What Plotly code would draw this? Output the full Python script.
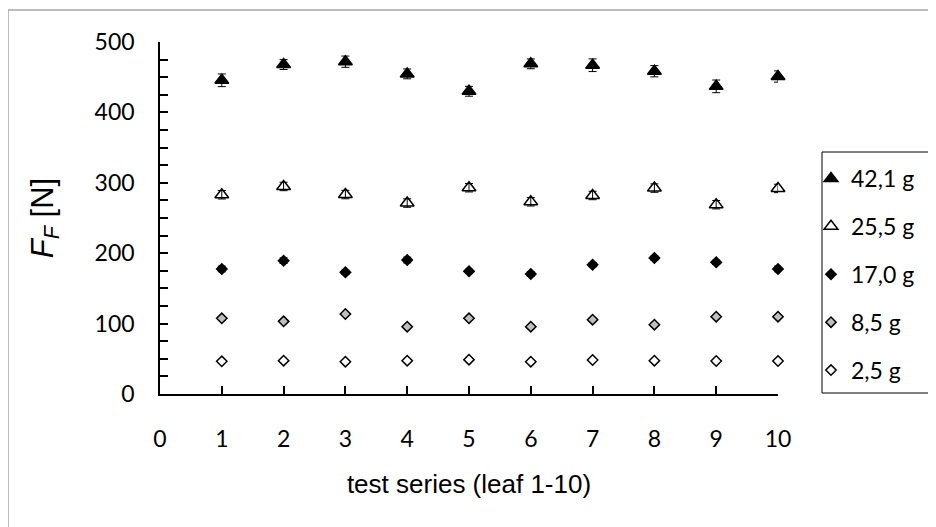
import plotly.graph_objects as go

# ---- data ----
test_series = [1, 2, 3, 4, 5, 6, 7, 8, 9, 10]
x_tick_vals = [0, 1, 2, 3, 4, 5, 6, 7, 8, 9, 10]
y_tick_vals = [0, 100, 200, 300, 400, 500]

f_42_1 = [445.6, 468.0, 472.0, 454.7, 430.0, 469.0, 467.0, 458.5, 437.0, 451.0]
err_42_1 = [9, 7, 8, 7, 7, 7, 9, 8, 9, 8]
f_25_5 = [283.0, 294.8, 283.3, 271.2, 293.0, 273.0, 282.0, 292.5, 268.9, 292.0]
err_25_5 = [6, 6, 6, 6, 6, 6, 6, 6, 6, 6]
f_17_0 = [177.6, 189.4, 172.8, 190.3, 174.2, 170.5, 183.7, 193.2, 187.0, 177.6]
err_17_0 = [4, 4, 3, 4, 3, 3, 3, 3, 3, 4]
f_8_5 = [107.5, 103.2, 113.6, 95.6, 107.5, 95.6, 105.6, 98.5, 109.8, 109.8]
err_8_5 = [2, 2, 2, 2, 2, 2, 2, 2, 2, 2]
f_2_5 = [46.4, 47.3, 45.9, 47.3, 48.8, 45.9, 48.3, 47.3, 46.9, 46.9]
err_2_5 = [1, 1, 1, 1, 1, 1, 1, 1, 1, 1]

# name, values, errors, symbol, fill, size, error bars drawn over marker
series = [
    ("42,1 g", f_42_1, err_42_1, "triangle-up", "black", 12, True),
    ("25,5 g", f_25_5, err_25_5, "triangle-up", "white", 12, True),
    ("17,0 g", f_17_0, err_17_0, "diamond", "black", 8, False),
    ("8,5 g", f_8_5, err_8_5, "diamond", "#bfbfbf", 8, False),
    ("2,5 g", f_2_5, err_2_5, "diamond", "white", 8, False),
]

fig = go.Figure()
for name, vals, errs, sym, col, sz, on_top in series:
    err = dict(type="data", array=errs, visible=True,
               color="black", thickness=1, width=4)
    fig.add_trace(go.Scatter(
        x=test_series, y=vals, mode="markers", name=name,
        legendgroup=name, cliponaxis=False,
        marker=dict(symbol=sym, color=col, size=sz,
                    line=dict(color="black", width=1.5)),
        error_y=(dict(visible=False) if on_top else err),
    ))
# error bars drawn on top of the triangle markers (as in the reference)
for name, vals, errs, sym, col, sz, on_top in series:
    if not on_top:
        continue
    fig.add_trace(go.Scatter(
        x=test_series, y=vals, mode="markers", name=name + " error",
        legendgroup=name, showlegend=False, cliponaxis=False,
        hoverinfo="skip",
        marker=dict(size=1, color="rgba(0,0,0,0)"),
        error_y=dict(type="data", array=errs, visible=True,
                     color="black", thickness=1, width=4),
    ))

tick_font = dict(family="Lato, Carlito, sans-serif", size=23, color="black")

# the page body adds an 8px offset; plot area on the page: x 160..778, y 42..394
def px_x(p):
    return (p - 160) / 618.0

def px_y(p):
    return (394 - p) / 352.0

fig.update_layout(
    width=936, height=527,
    margin=dict(l=152, r=166, t=34, b=141, autoexpand=False),
    paper_bgcolor="white", plot_bgcolor="white",
    showlegend=True,
    legend=dict(
        x=px_x(811), y=px_y(157), xanchor="left", yanchor="top",
        borderwidth=0, bgcolor="rgba(0,0,0,0)",
        font=tick_font, tracegroupgap=15, itemwidth=30,
    ),
    xaxis=dict(
        range=[0, 10], tickvals=x_tick_vals, ticks="inside", ticklen=8,
        tickwidth=1.5, tickcolor="black", showline=True, linecolor="black",
        linewidth=1.5, showgrid=False, zeroline=False, tickfont=tick_font,
        ticklabelstandoff=24, automargin=False,
        title=dict(text="test series (leaf 1-10)",
                   font=dict(family="Liberation Sans, Arial, sans-serif",
                             size=26, color="black"),
                   standoff=23),
    ),
    yaxis=dict(
        range=[0, 500], tickvals=y_tick_vals, ticks="inside", ticklen=8,
        tickwidth=1.5, tickcolor="black", showline=True, linecolor="black",
        linewidth=1.5, showgrid=False, zeroline=False, tickfont=tick_font,
        ticklabelstandoff=19, automargin=False,
        minor=dict(dtick=25, ticks="inside", ticklen=8, tickwidth=1.5,
                   tickcolor="black", showgrid=False),
        title=dict(text="<i>F</i><sub><i>F</i></sub> [N]",
                   font=dict(family="Liberation Sans, Arial, sans-serif", size=31,
                             color="black"),
                   standoff=32),
    ),
    shapes=[
        dict(type="rect", xref="paper", yref="paper",
             x0=px_x(8), x1=px_x(945), y0=px_y(540), y1=px_y(10),
             line=dict(color="#a6a6a6", width=1.5), fillcolor="rgba(0,0,0,0)",
             layer="below"),
        dict(type="rect", xref="paper", yref="paper",
             x0=px_x(822), x1=px_x(929), y0=px_y(393), y1=px_y(152),
             line=dict(color="black", width=1), fillcolor="white",
             layer="below"),
    ],
)

fig.write_html("out.html")
